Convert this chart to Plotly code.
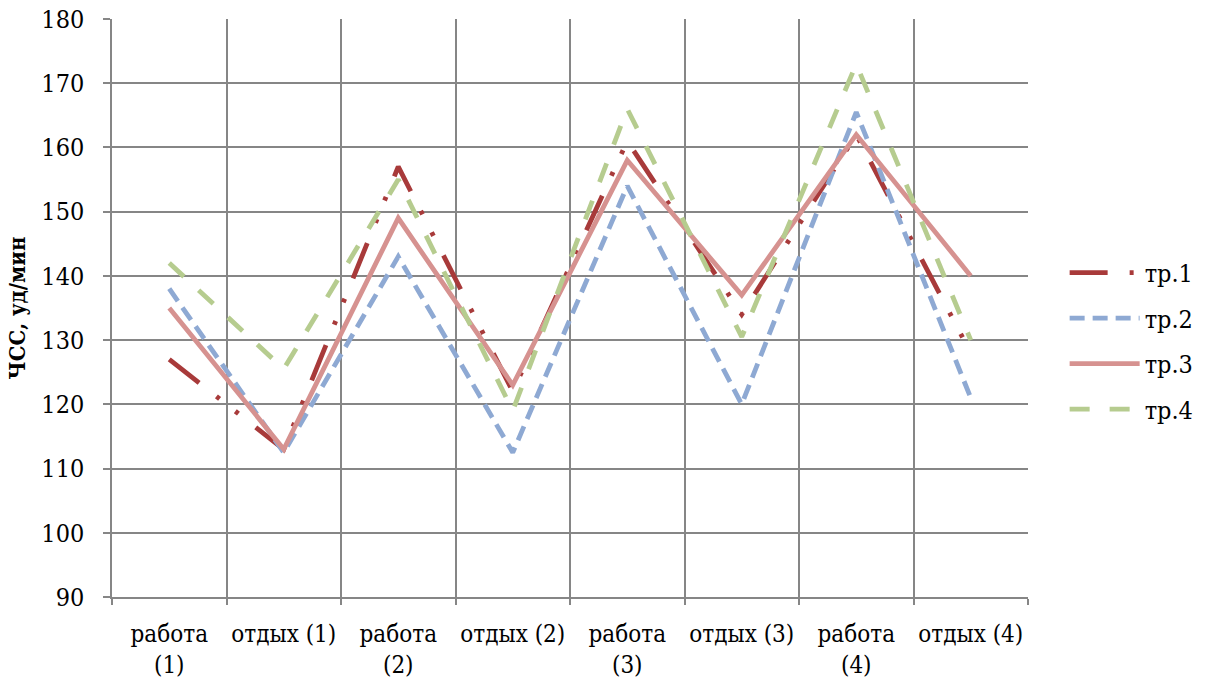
import plotly.graph_objects as go

categories = ["работа<br>(1)", "отдых (1)", "работа<br>(2)", "отдых (2)",
              "работа<br>(3)", "отдых (3)", "работа<br>(4)", "отдых (4)"]
tr1 = [127, 113, 157, 122, 161, 134, 162, 128]
tr2 = [138, 112.5, 143, 112.5, 154, 120, 165.5, 121]
tr3 = [135, 113, 149, 123, 158, 137, 162, 140]
tr4 = [142, 125.5, 155, 119, 166, 130.5, 173, 130]
series_names = ["тр.1", "тр.2", "тр.3", "тр.4"]
y_ticks = [90, 100, 110, 120, 130, 140, 150, 160, 170, 180]

styles = [
    dict(color="#A83A3A", width=4.8, dash="38px,22px,4px,20px,4px,22px"),
    dict(color="#8EA9D3", width=4.8, dash="15px,8px"),
    dict(color="#D69290", width=4.8, dash="solid"),
    dict(color="#B6CC8F", width=4.8, dash="20px,20px"),
]

fig = go.Figure()
for name, vals, st in zip(series_names, [tr1, tr2, tr3, tr4], styles):
    fig.add_trace(go.Scatter(x=categories, y=vals, mode="lines", name=name,
                             legendgroup=name, line=st))

font_family = "DejaVu Serif Condensed, DejaVu Serif"
grid_color = "#868686"

fig.update_layout(
    width=1207, height=681,
    margin=dict(l=112, r=179, t=19, b=84, autoexpand=False),
    paper_bgcolor="white", plot_bgcolor="white",
    font=dict(family=font_family, size=24, color="black"),
    legend=dict(x=1.04, xanchor="left", y=0.443, yanchor="middle",
                font=dict(family=font_family, size=25), tracegroupgap=10, itemwidth=70,
                bgcolor="rgba(0,0,0,0)"),
    xaxis=dict(type="category", range=[-0.5, 7.5], tickson="boundaries",
               showgrid=True, gridcolor=grid_color, gridwidth=1.5, tickangle=0,
               ticks="outside", ticklen=6, tickcolor=grid_color, tickwidth=1.5,
               showline=True, linecolor=grid_color, linewidth=1.5, automargin=False,
               ticklabelstandoff=14,
               tickfont=dict(family=font_family, size=24), zeroline=False),
    yaxis=dict(range=[90, 180], tickvals=y_ticks, showgrid=True,
               gridcolor=grid_color, gridwidth=1.5,
               ticks="outside", ticklen=7, tickcolor=grid_color, tickwidth=1.5,
               showline=True, linecolor=grid_color, linewidth=1.5, automargin=False,
               ticklabelstandoff=14, tickfont=dict(family=font_family, size=25), zeroline=False,
               title=dict(text="<b>ЧСС, уд/мин</b>",
                          font=dict(family=font_family, size=22), standoff=10)),
)

fig.write_html("out.html")
